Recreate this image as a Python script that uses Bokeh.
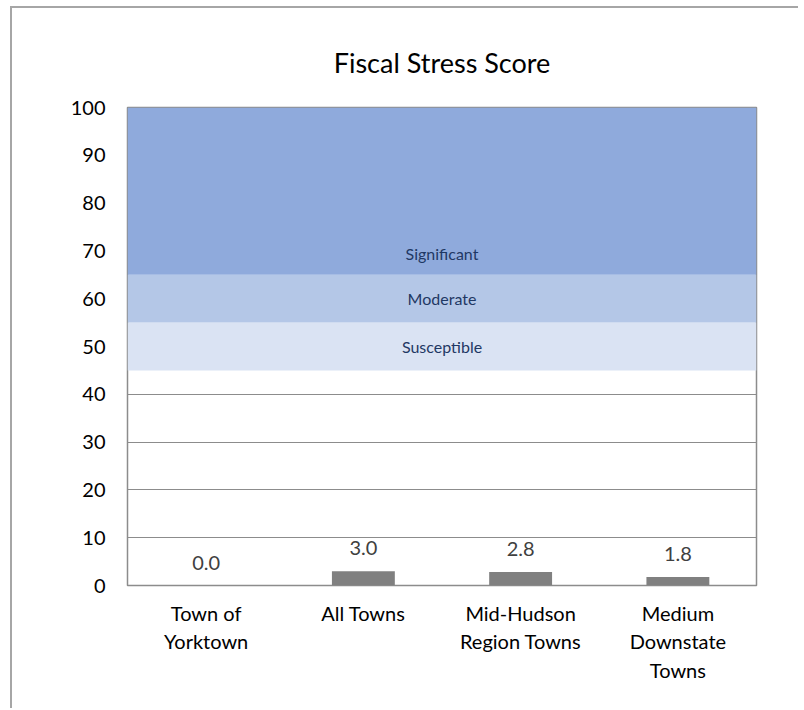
from bokeh.plotting import figure
from bokeh.models import FactorRange, Range1d, BoxAnnotation, Label, LabelSet, ColumnDataSource, FixedTicker
from bokeh.core.properties import value
from bokeh.embed import file_html
from bokeh.resources import INLINE

categories = ["Town of\nYorktown", "All Towns", "Mid-Hudson\nRegion Towns", "Medium\nDownstate\nTowns"]
scores = [0.0, 3.0, 2.8, 1.8]
score_labels = ["0.0", "3.0", "2.8", "1.8"]

band_names = ["Susceptible", "Moderate", "Significant"]
band_bottoms = [45, 55, 65]
band_tops = [55, 65, 100]
band_label_y = [50, 60, 69.5]
band_colors = ["#DAE3F3", "#B4C7E7", "#8FAADC"]

y_ticks = [0, 10, 20, 30, 40, 50, 60, 70, 80, 90, 100]

FONT = "Lato"

p = figure(
    x_range=FactorRange(*categories, range_padding=0),
    y_range=Range1d(0, 100),
    frame_width=629, frame_height=478,
    min_border_left=115, min_border_right=42,
    min_border_top=99, min_border_bottom=123,
    output_backend="svg", toolbar_location=None,
    title="Fiscal Stress Score",
)
p.styles = {"border-top": "2px solid #a6a6a6", "border-left": "2px solid #a6a6a6",
            "margin-top": "6px", "margin-left": "10px"}

p.title.align = "center"
p.title.text_font = FONT
p.title.text_font_size = "27px"
p.title.text_font_style = "normal"
p.title.text_color = "#000000"
p.title.standoff = 58

p.outline_line_color = "#8c8c8c"
p.outline_line_width = 1.5

p.xgrid.grid_line_color = None
p.ygrid.grid_line_color = "#8c8c8c"
p.ygrid.grid_line_width = 1
p.yaxis.ticker = FixedTicker(ticks=y_ticks)

for ax in (p.xaxis, p.yaxis):
    ax.axis_line_color = None
    ax.major_tick_line_color = None
    ax.minor_tick_line_color = None
    ax.major_label_text_font = FONT
    ax.major_label_text_font_size = "20px"
    ax.major_label_text_color = "#000000"

p.yaxis.major_label_standoff = 16
p.xaxis.major_label_standoff = 9
p.xaxis.major_label_text_line_height = 1.2

for b, t, c in zip(band_bottoms, band_tops, band_colors):
    p.add_layout(BoxAnnotation(bottom=b, top=t, fill_color=c, fill_alpha=1.0, line_color=None, level="underlay"))

p.ygrid.level = "image"

src = ColumnDataSource(dict(cat=categories, score=scores, lab=score_labels))
p.vbar(x="cat", top="score", width=0.4, source=src, fill_color="#808080", line_color=None)
p.add_layout(LabelSet(x="cat", y="score", text="lab", source=src, y_offset=16,
                      text_align="center", text_baseline="bottom",
                      text_font=value(FONT), text_font_size=value("20px"), text_color="#404040"))

for name, yv in zip(band_names, band_label_y):
    p.add_layout(Label(x=314.5, x_units="screen", y=yv, text=name, text_align="center",
                       text_baseline="middle", text_font=FONT, text_font_size="16px",
                       text_color="#1F3864"))

open("out.html", "w").write(file_html(p, INLINE))
